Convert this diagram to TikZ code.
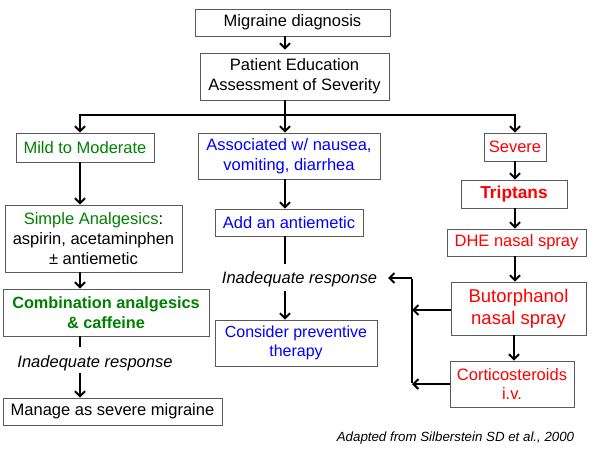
\documentclass[tikz,border=0pt]{standalone}
\usepackage{fontspec}
\setmainfont{Liberation Sans}
\usetikzlibrary{arrows.meta,shadows}
\definecolor{mygreen}{RGB}{0,128,0}
\definecolor{myblue}{RGB}{0,0,255}
\definecolor{myred}{RGB}{255,0,0}
\definecolor{bordergray}{RGB}{90,90,90}
\begin{document}
\begin{tikzpicture}[x=1pt,y=-1pt,
  box/.style={draw=bordergray,line width=0.8pt,fill=white,inner sep=0pt,align=center,
    drop shadow={shadow xshift=1.2pt,shadow yshift=-1.2pt,fill=black,opacity=0.18},
    font=\fontsize{16.5}{19.8}\selectfont},
  lbl/.style={inner sep=0pt,align=center,font=\fontsize{16.5}{19.8}\selectfont\itshape},
  arr/.style={line width=2pt,-{Straight Barb[length=5pt,width=10pt,line width=2pt]}},
  ln/.style={line width=2pt}
]
\useasboundingbox (0,0) rectangle (600,450);
\fill[white] (0,0) rectangle (600,450);

% boxes
\node[box,minimum width=195pt,minimum height=27pt] (mig) at (292.5,22.5) {Migraine diagnosis};
\node[box,minimum width=189pt,minimum height=47pt] (pat) at (294.5,76.5) {Patient Education\\Assessment of Severity};
\node[box,minimum width=138pt,minimum height=29pt,text=mygreen] (mild) at (85,147.5) {Mild to Moderate};
\node[box,minimum width=182pt,minimum height=46pt,text=myblue] (assoc) at (289,156) {Associated w/ nausea,\\vomiting, diarrhea};
\node[box,minimum width=62pt,minimum height=28pt,text=myred] (sev) at (515,147) {Severe};
\node[box,minimum width=177pt,minimum height=67pt] (simple) at (93.5,238.5) {\textcolor{mygreen}{Simple Analgesics}:\\aspirin, acetaminphen\\± antiemetic};
\node[box,minimum width=206pt,minimum height=47pt,text=mygreen,font=\fontsize{16.3}{19.6}\selectfont\bfseries] (combo) at (106,312.5) {Combination analgesics\\\& caffeine};
\node[lbl] (inadL) at (95,363) {Inadequate response};
\node[box,minimum width=219pt,minimum height=27pt] (manage) at (112.5,411.5) {Manage as severe migraine};
\node[box,minimum width=148pt,minimum height=27pt,text=myblue] (anti) at (289,222.5) {Add an antiemetic};
\node[lbl] (inadM) at (299.5,279) {Inadequate response};
\node[box,minimum width=162pt,minimum height=46pt,text=myblue,font=\fontsize{16}{19.5}\selectfont] (cons) at (296,343) {Consider preventive\\therapy};
\node[box,minimum width=106pt,minimum height=28pt,text=myred,font=\fontsize{17.3}{20.8}\selectfont\bfseries] (trip) at (514,194) {Triptans};
\node[box,minimum width=139pt,minimum height=27pt,text=myred] (dhe) at (516.5,242.5) {DHE nasal spray};
\node[box,minimum width=135pt,minimum height=53pt,text=myred,font=\fontsize{18.5}{22.5}\selectfont] (buto) at (518.5,308.5) {Butorphanol\\nasal spray};
\node[box,minimum width=124pt,minimum height=46pt,text=myred] (cort) at (512,384) {Corticosteroids\\i.v.};
\node[inner sep=0pt,font=\fontsize{13.3}{16}\selectfont\itshape] (foot) at (455.5,438) {Adapted from Silberstein SD et al., 2000};

% connectors
\coordinate (split) at (285,115);
\coordinate (hl) at (80,115);
\coordinate (hr) at (515,115);
\draw[arr,shorten >=3pt] (mig.south -| split) -- (pat.north -| split);
\draw[ln] (pat.south -| split) -- (split);
\draw[ln] ([xshift=-1pt]hl) -- ([xshift=1pt]hr);
\draw[arr] (hl) -- (mild.north -| hl);
\draw[arr] (split) -- (assoc.north -| split);
\draw[arr] (hr) -- (sev.north -| hr);

\draw[arr] (mild.south -| hl) -- (simple.north -| hl);
\draw[arr] (simple.south -| hl) -- (combo.north -| hl);
\coordinate (cL1) at (80,347);
\coordinate (cL2) at (80,373);
\draw[ln] (combo.south -| cL1) -- (cL1);
\draw[arr] (cL2) -- (manage.north -| cL2);

\draw[arr] (assoc.south -| split) -- (anti.north -| split);
\coordinate (cM1) at (285,264);
\coordinate (cM2) at (285,291);
\draw[ln] (anti.south -| cM1) -- (cM1);
\draw[arr] (cM2) -- (cons.north -| cM2);

\draw[arr] (sev.south -| hr) -- (trip.north -| hr);
\draw[arr] (trip.south -| hr) -- (dhe.north -| hr);
\draw[arr] (dhe.south -| hr) -- (buto.north -| hr);
\coordinate (cr) at (514,0);
\draw[arr] (buto.south -| cr) -- (cort.north -| cr);

\coordinate (bt) at (412,278);
\coordinate (bb) at (412,384);
\coordinate (tipM) at (388,278);
\draw[ln] ([yshift=-1pt]bt) -- ([yshift=1pt]bb);
\draw[arr] (bt) -- (tipM);
\draw[arr] (buto.west |- 0,310) -- (412,310);
\draw[arr] (cort.west) -- (bb);
\end{tikzpicture}
\end{document}
